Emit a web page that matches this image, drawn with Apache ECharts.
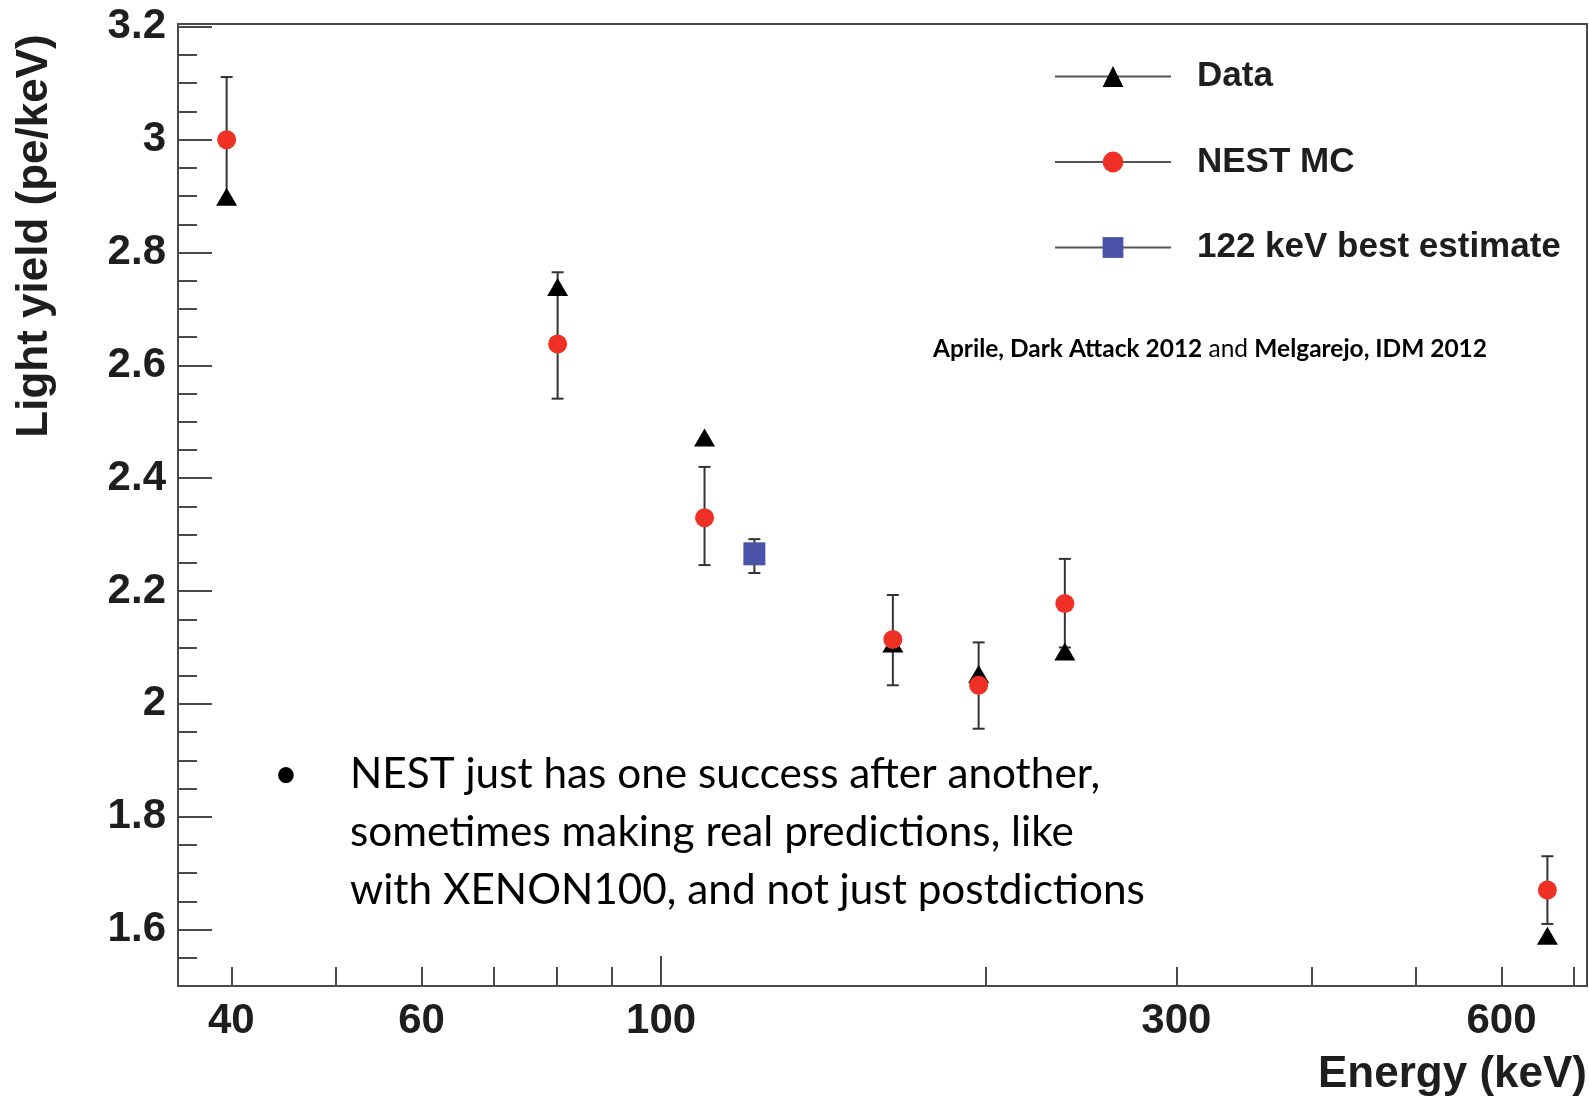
<!DOCTYPE html>
<html>
<head>
<meta charset="utf-8">
<script src="https://cdn.jsdelivr.net/npm/echarts@6/dist/echarts.min.js"></script>
<style>
  html, body { margin: 0; padding: 0; background: #ffffff; }
  #chart { width: 1589px; height: 1104px; }
</style>
</head>
<body>
<div id="chart"></div>
<script>
// ---- Data ----
const dataEnergy   = [39.6, 80.2, 109.7, 163.9, 196.8, 236.5, 661.7];
const dataYield    = [2.899, 2.739, 2.472, 2.107, 2.053, 2.093, 1.589];

const nestEnergy   = [39.6, 80.2, 109.7, 163.9, 196.8, 236.5, 661.7];
const nestYield    = [3.000, 2.638, 2.330, 2.114, 2.033, 2.178, 1.670];
const nestErrLow   = [2.890, 2.541, 2.246, 2.033, 1.956, 2.100, 1.610];
const nestErrHigh  = [3.111, 2.765, 2.420, 2.193, 2.109, 2.257, 1.730];

const bestEnergy   = [122];
const bestYield    = [2.266];
const bestErrLow   = [2.232];
const bestErrHigh  = [2.292];

// ---- Axis ticks and labels ----
const xLabelValues = [40, 60, 100, 300, 600];
const xMajorTicks  = [100];
const xMinorTicks  = [40, 50, 60, 70, 80, 90, 200, 300, 400, 500, 600, 700];
const yLabelValues = [1.6, 1.8, 2.0, 2.2, 2.4, 2.6, 2.8, 3.0, 3.2];
const yMajorTicks  = [1.6, 1.8, 2.0, 2.2, 2.4, 2.6, 2.8, 3.0, 3.2];
const yMinorTicks  = [1.55, 1.65, 1.7, 1.75, 1.85, 1.9, 1.95, 2.05, 2.1, 2.15,
                      2.25, 2.3, 2.35, 2.45, 2.5, 2.55, 2.65, 2.7, 2.75, 2.85,
                      2.9, 2.95, 3.05, 3.1, 3.15];

const seriesNames = ['Data', 'NEST MC', '122 keV best estimate'];
const xTitle = 'Energy (keV)';
const yTitle = 'Light yield (pe/keV)';
const bulletLines = [
  'NEST just has one success after another,',
  'sometimes making real predictions, like',
  'with XENON100, and not just postdictions'
];
const refBold1 = 'Aprile, Dark Attack 2012';
const refPlain = ' and ';
const refBold2 = 'Melgarejo, IDM 2012';

// ---- helpers ----
const zip = (xs, ys) => xs.map((x, i) => [x, ys[i]]);
const zip3 = (xs, a, b) => xs.map((x, i) => [x, a[i], b[i]]);

const measureCanvas = document.createElement('canvas').getContext('2d');
function textWidth(str, font) { measureCanvas.font = font; return measureCanvas.measureText(str).width; }

const bodyFont = 'Lato';
const bulletFontSize = 42;
const bulletScale = 750 / textWidth(bulletLines[0], bulletFontSize + 'px ' + bodyFont);
const refFontSize = 25;
const refW = textWidth(refBold1, 'bold ' + refFontSize + 'px ' + bodyFont) +
             textWidth(refPlain, refFontSize + 'px ' + bodyFont) +
             textWidth(refBold2, 'bold ' + refFontSize + 'px ' + bodyFont);
const refScale = 554 / refW;

const axisColor = '#4a4a4a';
const labelFont = 'Liberation Sans';

const xMin = 35.7, xMax = 720, yMin = 1.5, yMax = 3.205;

function errorBarItem(params, api) {
  const x = api.value(0);
  const lo = api.coord([x, api.value(1)]);
  const hi = api.coord([x, api.value(2)]);
  const cap = 6;
  const st = { stroke: '#333', lineWidth: 2 };
  return {
    type: 'group',
    children: [
      { type: 'line', shape: { x1: lo[0], y1: lo[1], x2: hi[0], y2: hi[1] }, style: st },
      { type: 'line', shape: { x1: lo[0] - cap, y1: lo[1], x2: lo[0] + cap, y2: lo[1] }, style: st },
      { type: 'line', shape: { x1: hi[0] - cap, y1: hi[1], x2: hi[0] + cap, y2: hi[1] }, style: st }
    ]
  };
}

const chart = echarts.init(document.getElementById('chart'), null, { renderer: 'canvas' });

const option = {
  backgroundColor: '#ffffff',
  animation: false,
  grid: {
    left: 178, right: 2, top: 24, bottom: 118,
    show: true, borderColor: axisColor, borderWidth: 2, backgroundColor: 'transparent'
  },
  legend: {
    orient: 'vertical',
    left: 1054, top: 59, padding: 0,
    itemWidth: 116, itemHeight: 26, itemGap: 50.5,
    data: seriesNames,
    lineStyle: { color: '#555', width: 2, opacity: 1 },
    textStyle: {
      fontFamily: labelFont, fontWeight: 'bold', fontSize: 35, color: '#1e1e1e',
      lineHeight: 24, padding: [0, 0, 0, 21]
    }
  },
  xAxis: [
    {
      type: 'log', logBase: 10, min: xMin, max: xMax,
      axisLine: { show: true, onZero: false, lineStyle: { color: axisColor, width: 2 } },
      axisTick: { show: true, inside: true, length: 30, customValues: xMajorTicks, lineStyle: { color: axisColor, width: 2 } },
      axisLabel: {
        show: true, customValues: xLabelValues, margin: 14,
        fontFamily: labelFont, fontWeight: 'bold', fontSize: 42, lineHeight: 42, color: '#1e1e1e',
        formatter: v => String(Math.round(v))
      },
      splitLine: { show: false }, minorTick: { show: false }
    },
    {
      type: 'log', logBase: 10, min: xMin, max: xMax, position: 'bottom',
      axisLine: { show: false },
      axisTick: { show: true, inside: true, length: 19, customValues: xMinorTicks, lineStyle: { color: axisColor, width: 2 } },
      axisLabel: { show: false },
      splitLine: { show: false }
    }
  ],
  yAxis: [
    {
      type: 'value', min: yMin, max: yMax,
      axisLine: { show: true, onZero: false, lineStyle: { color: axisColor, width: 2 } },
      axisTick: { show: true, inside: true, length: 34, customValues: yMajorTicks, lineStyle: { color: axisColor, width: 2 } },
      axisLabel: {
        show: true, customValues: yLabelValues, margin: 12,
        fontFamily: labelFont, fontWeight: 'bold', fontSize: 42, color: '#1e1e1e',
        formatter: v => String(Math.round(v * 10) / 10)
      },
      splitLine: { show: false }
    },
    {
      type: 'value', min: yMin, max: yMax, position: 'left',
      axisLine: { show: false },
      axisTick: { show: true, inside: true, length: 19, customValues: yMinorTicks, lineStyle: { color: axisColor, width: 2 } },
      axisLabel: { show: false },
      splitLine: { show: false }
    }
  ],
  series: [
    {
      type: 'custom', name: 'nestErr', xAxisIndex: 0, yAxisIndex: 0, z: 1,
      renderItem: errorBarItem, encode: { x: 0, y: [1, 2] },
      data: zip3(nestEnergy, nestErrLow, nestErrHigh), silent: true
    },
    {
      type: 'custom', name: 'bestErr', xAxisIndex: 0, yAxisIndex: 0, z: 1,
      renderItem: errorBarItem, encode: { x: 0, y: [1, 2] },
      data: zip3(bestEnergy, bestErrLow, bestErrHigh), silent: true
    },
    {
      type: 'line', name: seriesNames[0], xAxisIndex: 0, yAxisIndex: 0, z: 3,
      data: zip(dataEnergy, dataYield),
      symbol: 'triangle', symbolSize: [21, 18],
      itemStyle: { color: '#000000' },
      lineStyle: { opacity: 0 }
    },
    {
      type: 'line', name: seriesNames[1], xAxisIndex: 0, yAxisIndex: 0, z: 4,
      data: zip(nestEnergy, nestYield),
      symbol: 'circle', symbolSize: 19,
      itemStyle: { color: '#ee3124' },
      lineStyle: { opacity: 0 }
    },
    {
      type: 'line', name: seriesNames[2], xAxisIndex: 0, yAxisIndex: 0, z: 4,
      data: zip(bestEnergy, bestYield),
      symbol: 'rect', symbolSize: [22, 23],
      itemStyle: { color: '#4a52a8' },
      lineStyle: { opacity: 0 }
    }
  ],
  graphic: [
    {
      type: 'text', x: 35, y: 236, rotation: Math.PI / 2,
      style: {
        text: yTitle, x: 0, y: 0, align: 'center', verticalAlign: 'middle',
        font: 'bold 44px "' + labelFont + '"', fill: '#1e1e1e'
      }
    },
    {
      type: 'text', x: 1587, y: 1075,
      style: {
        text: xTitle, x: 0, y: 0, align: 'right', verticalAlign: 'middle',
        font: 'bold 44px "' + labelFont + '"', fill: '#1e1e1e'
      }
    },
    {
      type: 'text', x: 933, y: 349, scaleX: refScale,
      style: {
        x: 0, y: 0, align: 'left', verticalAlign: 'middle',
        text: '{b|' + refBold1 + '}{n|' + refPlain + '}{b|' + refBold2 + '}',
        rich: {
          b: { fontFamily: bodyFont, fontWeight: 'bold', fontSize: refFontSize, fill: '#000' },
          n: { fontFamily: bodyFont, fontWeight: 'normal', fontSize: refFontSize, fill: '#000' }
        }
      }
    },
    {
      type: 'text', x: 286, y: 774,
      style: {
        text: '\u2022', x: 0, y: 0, align: 'center', verticalAlign: 'middle',
        font: bulletFontSize + 'px ' + bodyFont, fill: '#000'
      }
    },
    {
      type: 'text', x: 350, y: 745, scaleX: bulletScale,
      style: {
        text: bulletLines.join('\n'), x: 0, y: 0, align: 'left', verticalAlign: 'top',
        font: bulletFontSize + 'px ' + bodyFont, lineHeight: 58.3, fill: '#000'
      }
    }
  ]
};

chart.setOption(option);
</script>
</body>
</html>
